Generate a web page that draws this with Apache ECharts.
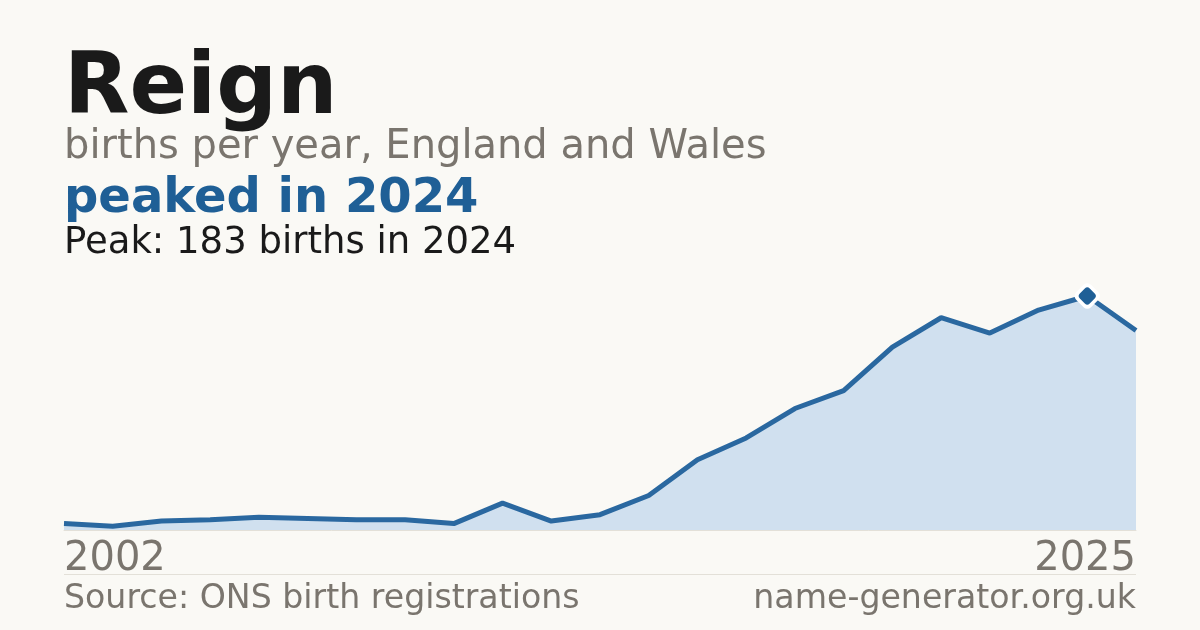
<!DOCTYPE html>
<html>
<head>
<meta charset="utf-8">
<script src="https://cdn.jsdelivr.net/npm/echarts@6/dist/echarts.min.js"></script>
<style>
  html, body { margin: 0; padding: 0; background: #faf9f5; }
  #chart { width: 1200px; height: 630px; }
</style>
</head>
<body>
<div id="chart"></div>
<script>
// years shown on the x axis (one year has no published count)
const years = ['2002', '2004', '2005', '2006', '2007', '2008', '2009', '2010', '2011', '2012',
  '2013', '2014', '2015', '2016', '2017', '2018', '2019', '2020', '2021', '2022', '2023', '2024', '2025'];
// births per year
const births = [5, 3, 7, 8, 10, 9, 8, 8, 5, 21, 7, 12, 27, 55, 72, 95, 109, 143, 166, 154, 172, 183, 156];

const FONT = '"DejaVu Sans", sans-serif';
const BLUE = '#1f5f96';
const GREY = '#7a756e';

const chart = echarts.init(document.getElementById('chart'), null, { renderer: 'canvas' });

const peak = Math.max(...births);
const peakIdx = births.indexOf(peak);
const last = years.length - 1;
const peakOnly = births.map((v, i) => i === peakIdx ? v : '-');

const option = {
    backgroundColor: '#faf9f5',
    animation: false,
    grid: { left: 64, right: 64, top: 296, bottom: 100 },
    xAxis: {
        type: 'category',
        data: years,
        boundaryGap: false,
        axisLine: { show: true, lineStyle: { color: '#e3e0d8', width: 1 } },
        axisTick: { show: false },
        splitLine: { show: false },
        axisLabel: {
            interval: (i) => i === 0 || i === last,
            color: GREY,
            fontFamily: FONT,
            fontSize: 40,
            margin: 10,
            alignMinLabel: 'left',
            alignMaxLabel: 'right'
        }
    },
    yAxis: {
        type: 'value',
        min: 0,
        max: peak,
        show: false,
        splitLine: { show: false }
    },
    series: [{
        type: 'line',
        data: births,
        showSymbol: false,
        lineStyle: { color: '#2a68a0', width: 5 },
        areaStyle: { color: '#d0e0ef', opacity: 1 },
        z: 2
    }, {
        // white halo under the peak marker
        type: 'scatter',
        data: peakOnly,
        symbol: 'roundRect',
        symbolRotate: 45,
        symbolSize: 21,
        itemStyle: { color: '#ffffff', opacity: 1 },
        silent: true,
        z: 4
    }, {
        type: 'scatter',
        data: peakOnly,
        symbol: 'roundRect',
        symbolRotate: 45,
        symbolSize: 14,
        itemStyle: { color: BLUE, opacity: 1 },
        z: 5
    }],
    graphic: [
        { type: 'text', x: 64, y: 91, style: { text: 'Reign', font: 'bold 85px ' + FONT, fill: '#1a1a1a', textVerticalAlign: 'middle' } },
        { type: 'text', x: 64, y: 148, style: { text: 'births per year, England and Wales', font: '40px ' + FONT, fill: GREY, textVerticalAlign: 'middle' } },
        { type: 'text', x: 64, y: 200, style: { text: 'peaked in 2024', font: 'bold 48px ' + FONT, fill: BLUE, textVerticalAlign: 'middle' } },
        { type: 'text', x: 64, y: 243, style: { text: 'Peak: 183 births in 2024', font: '37px ' + FONT, fill: '#1a1a1a', textVerticalAlign: 'middle' } },
        { type: 'line', shape: { x1: 64, y1: 574.5, x2: 1136, y2: 574.5 }, style: { stroke: '#e3e0d8', lineWidth: 1 } },
        { type: 'text', x: 64, y: 599, style: { text: 'Source: ONS birth registrations', font: '33.2px ' + FONT, fill: GREY, textVerticalAlign: 'middle' } },
        { type: 'text', x: 1136, y: 599, style: { text: 'name-generator.org.uk', font: '33.2px ' + FONT, fill: GREY, textAlign: 'right', textVerticalAlign: 'middle' } }
    ]
};

chart.setOption(option);
</script>
</body>
</html>
